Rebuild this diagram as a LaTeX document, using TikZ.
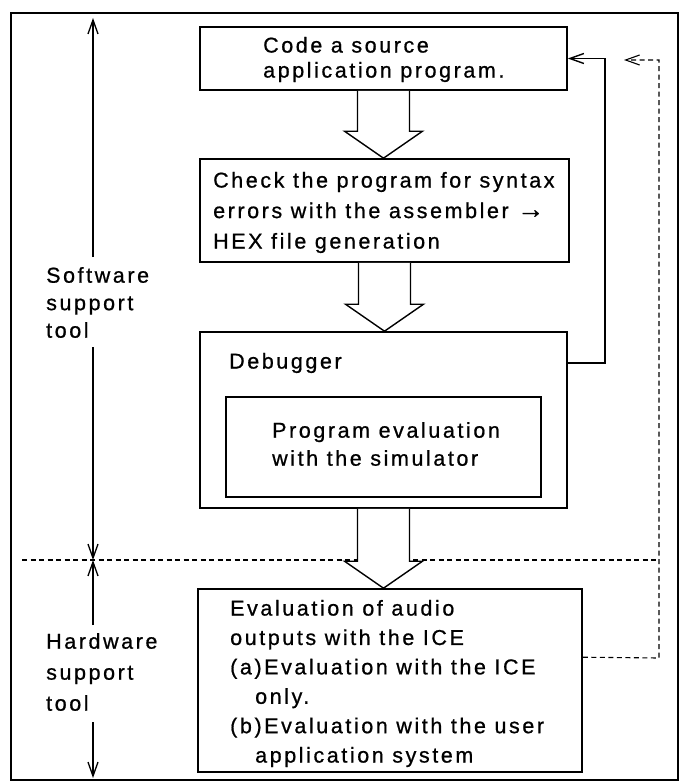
\documentclass[tikz,border=0pt]{standalone}
\usepackage{fontspec}
\setmainfont{Liberation Sans}[LetterSpace=12,FakeBold=0.8]
\usetikzlibrary{arrows.meta}
\usetikzlibrary{calc}

\tikzset{
  box/.style={draw, line width=1.6pt, inner sep=0pt},
  txt/.style={anchor=west, align=left, inner sep=0pt, font=\fontsize{21.5}{#1}\selectfont},
  txt/.default=29,
  barb/.style={-{Straight Barb[length=14pt,width=10pt]}},
  dotline/.style={dash pattern=on 5pt off 3.5pt, line width=1.1pt},
}
% hollow block arrow from the bottom of one box to the top of the next
\newcommand{\fatarrow}[2]{%
  \draw[line width=1.4pt, fill=white] ($(#1.south)+(-26,0)$)
    -- ($(#2.north -| #1.south)+(-26,-27)$) -- ($(#2.north -| #1.south)+(-39,-27)$)
    -- (#2.north -| #1.south)
    -- ($(#2.north -| #1.south)+(39,-27)$) -- ($(#2.north -| #1.south)+(26,-27)$)
    -- ($(#1.south)+(26,0)$) ;}

\begin{document}
\begin{tikzpicture}[x=1pt,y=1pt,yscale=-1,xscale=1]
\useasboundingbox (0,0) rectangle (687,784);

%Frame
\draw [line width=1.8pt] (11,13) rectangle (678,780);

%Boxes
\node [box, minimum width=367pt, minimum height=63pt] (code) at (383.5,58.5) {};
\node [box, minimum width=369pt, minimum height=103pt] (check) at (384.5,210.5) {};
\node [box, minimum width=367pt, minimum height=176pt] (debug) at (383.5,420) {};
\node [box, minimum width=315pt, minimum height=100pt] (sim) at (383.5,447) {};
\node [box, minimum width=384pt, minimum height=183pt] (ice) at (390,680.5) {};

% Text Node
\node [txt=25] (codetext) at (263,59.5) {Code a source\\application program.};
% Text Node
\node [txt=30.5] (checktext) at (213,212.5) {Check the program for syntax\\errors with the assembler {\fontsize{27}{27}\selectfont →}\\HEX file generation};
% Text Node
\node [txt] (debugtext) at (229,363) {Debugger};
% Text Node
\node [txt=28] (simtext) at (272,444) {Program evaluation\\with the simulator};
% Text Node
\node [txt=29.4] (icetext) at (230,683.5) {Evaluation of audio\\outputs with the ICE\\(a)Evaluation with the ICE\\\hspace*{25pt}only.\\(b)Evaluation with the user\\\hspace*{25pt}application system};
% Text Node
\node [txt=27.5] (software) at (46,302.5) {Software\\support\\tool};
% Text Node
\node [txt=31] (hardware) at (46,672) {Hardware\\support\\tool};

%Tool ranges
\coordinate (swup) at (93,257);
\coordinate (swtop) at (93,18);
\coordinate (swdown) at (93,347);
\coordinate (split) at (93,560);
\coordinate (hwup) at (93,625);
\coordinate (hwdown) at (93,722);
\coordinate (hwbottom) at (93,778);
\draw [barb, line width=1.3pt] (swup) -- (swtop);
\draw [barb, line width=1.3pt] (swdown) -- (split);
\draw [barb, line width=1.3pt] (hwup) -- (split);
\draw [barb, line width=1.3pt] (hwdown) -- (hwbottom);

%Dividing line
\coordinate (divleft) at (22,560);
\coordinate (divright) at (659,560);
\draw [dotline] (divleft) -- (divright);

%Block arrows
\fatarrow{code}{check}
\fatarrow{check}{debug}
\fatarrow{debug}{ice}

%Loop back from the debugger
\draw [barb, line width=1.4pt] (debugtext -| debug.east) -- ++(37,0) |- (code.east);

%Loop back from the ICE
\coordinate (iceout) at ($(ice.north east)+(0,69)$);
\coordinate (loopend) at (624,60);
\draw [dotline, barb] (iceout) -- (659,658) |- (loopend);
\end{tikzpicture}
\end{document}
